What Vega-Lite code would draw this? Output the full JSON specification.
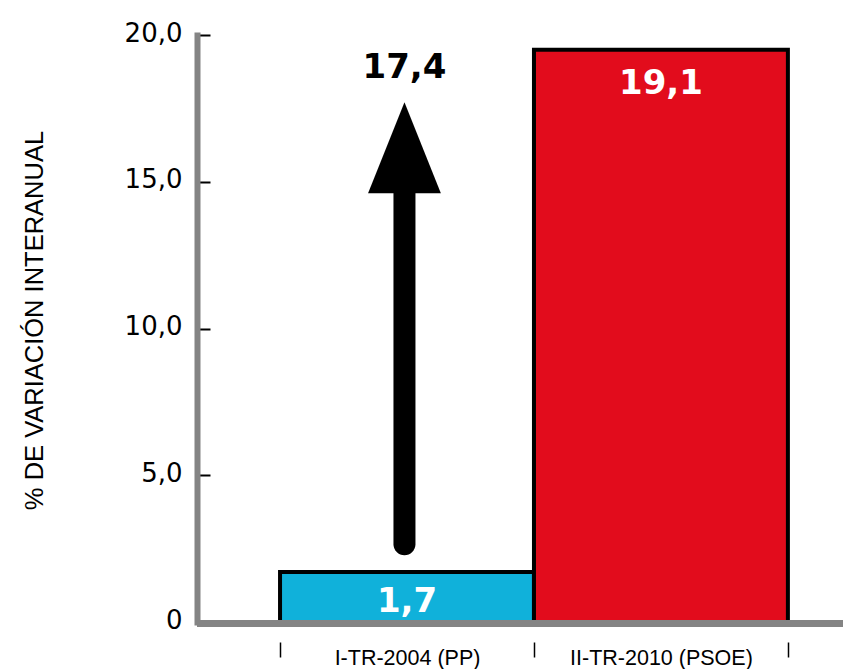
{
  "$schema": "https://vega.github.io/schema/vega-lite/v6.json",
  "width": 646,
  "height": 587,
  "autosize": "none",
  "padding": {"left": 197, "top": 35, "right": 0, "bottom": 47},
  "background": "white",
  "config": {"view": {"stroke": null}},
  "datasets": {
    "barras": [
      {"periodo": "I-TR-2004 (PP)", "desde": 0, "hasta": 1, "centro": 0.5, "altura": 1.7, "etiqueta": "1,7"},
      {"periodo": "II-TR-2010 (PSOE)", "desde": 1, "hasta": 2, "centro": 1.5, "altura": 19.5, "etiqueta": "19,1"}
    ],
    "flecha": [
      {"x": 0.49, "inicio": 2.65, "fin": 14.8, "punta": 17.71, "etiqueta": "17,4"}
    ]
  },
  "layer": [
    {
      "data": {"name": "barras"},
      "mark": {"type": "rect", "stroke": "black", "strokeWidth": 4},
      "encoding": {
        "x": {
          "field": "desde", "type": "quantitative",
          "scale": {"domain": [-0.327, 2.217], "nice": false, "zero": false},
          "axis": {
            "values": [0, 0.5, 1, 1.5, 2],
            "domain": false, "grid": false, "offset": 20,
            "tickSize": 15, "tickWidth": 1.5, "tickColor": "black",
            "tickOpacity": {"condition": {"test": "datum.value % 1 === 0", "value": 1}, "value": 0},
            "labelExpr": "datum.value === 0.5 ? 'I-TR-2004 (PP)' : datum.value === 1.5 ? 'II-TR-2010 (PSOE)' : ''",
            "labelFont": "Liberation Sans", "labelFontSize": 21.5, "labelColor": "black", "labelLimit": 0,
            "labelPadding": -10, "labelOverlap": false, "labelBound": false, "labelFlush": false,
            "title": null
          }
        },
        "x2": {"field": "hasta"},
        "y": {
          "field": "altura", "type": "quantitative",
          "scale": {"domain": [0, 20], "nice": false},
          "axis": {
            "values": [0, 5, 10, 15, 20],
            "grid": false,
            "domainColor": "#848484", "domainWidth": 6, "domainCap": "square",
            "tickColor": "black", "tickWidth": 2, "tickSize": -13,
            "labelExpr": "datum.value === 0 ? '0' : replace(format(datum.value, '.1f'), '.', ',')",
            "labelFont": "DejaVu Sans", "labelFontSize": 26, "labelColor": "black",
            "labelPadding": 28, "labelOffset": -2, "labelOverlap": false, "labelBound": false, "labelFlush": false,
            "title": "% DE VARIACIÓN INTERANUAL",
            "titleFont": "Liberation Sans", "titleFontSize": 25.5, "titleFontWeight": "normal", "titleColor": "black",
            "titleAngle": -90, "titleX": -155, "titleY": 285, "titleAlign": "center", "titleBaseline": "alphabetic"
          }
        },
        "y2": {"datum": 0},
        "color": {
          "field": "periodo", "type": "nominal",
          "scale": {"domain": ["I-TR-2004 (PP)", "II-TR-2010 (PSOE)"], "range": ["#10b1da", "#e20c1c"]},
          "legend": null
        }
      }
    },
    {
      "data": {"values": [{}]},
      "mark": {"type": "rule", "color": "#848484", "strokeWidth": 7, "yOffset": 1.5},
      "encoding": {"y": {"datum": 0, "type": "quantitative"}}
    },
    {
      "data": {"name": "flecha"},
      "mark": {"type": "rule", "strokeWidth": 22, "strokeCap": "round", "color": "black"},
      "encoding": {
        "x": {"field": "x", "type": "quantitative"},
        "y": {"field": "inicio", "type": "quantitative"},
        "y2": {"field": "fin"}
      }
    },
    {
      "data": {"name": "flecha"},
      "mark": {"type": "point", "shape": "M0,0L0.8,2L-0.8,2Z", "size": 8281, "filled": true, "color": "black", "strokeWidth": 0, "opacity": 1},
      "encoding": {
        "x": {"field": "x", "type": "quantitative"},
        "y": {"field": "punta", "type": "quantitative"}
      }
    },
    {
      "data": {"name": "flecha"},
      "mark": {"type": "text", "font": "DejaVu Sans", "fontWeight": "bold", "fontSize": 34, "color": "black", "align": "center", "baseline": "alphabetic", "dy": -24},
      "encoding": {
        "x": {"field": "x", "type": "quantitative"},
        "y": {"field": "punta", "type": "quantitative"},
        "text": {"field": "etiqueta"}
      }
    },
    {
      "data": {"name": "barras"},
      "transform": [{"filter": "datum.altura < 10"}],
      "mark": {"type": "text", "font": "DejaVu Sans", "fontWeight": "bold", "fontSize": 34, "color": "white", "align": "center", "baseline": "alphabetic", "dy": 39.5},
      "encoding": {
        "x": {"field": "centro", "type": "quantitative"},
        "y": {"field": "altura", "type": "quantitative"},
        "text": {"field": "etiqueta"}
      }
    },
    {
      "data": {"name": "barras"},
      "transform": [{"filter": "datum.altura >= 10"}],
      "mark": {"type": "text", "font": "DejaVu Sans", "fontWeight": "bold", "fontSize": 34, "color": "white", "align": "center", "baseline": "alphabetic", "dy": 44.3},
      "encoding": {
        "x": {"field": "centro", "type": "quantitative"},
        "y": {"field": "altura", "type": "quantitative"},
        "text": {"field": "etiqueta"}
      }
    }
  ]
}
